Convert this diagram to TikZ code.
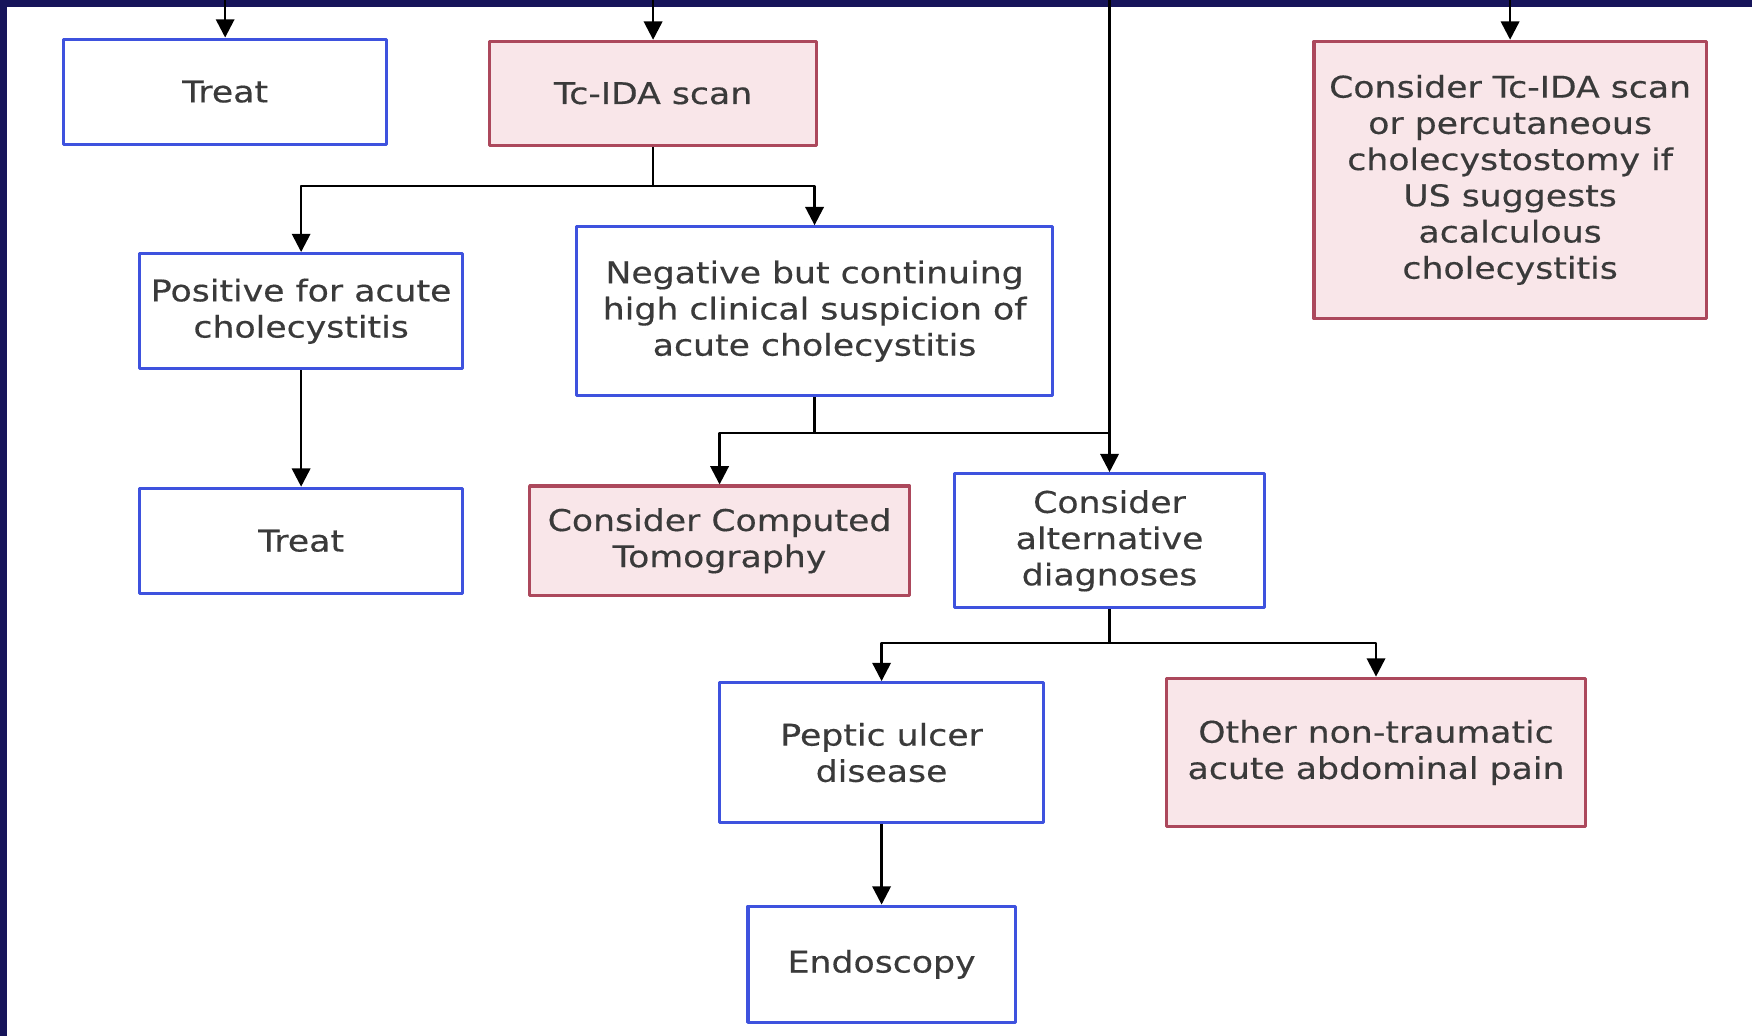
\documentclass[tikz,border=0pt]{standalone}
\usepackage{fontspec}
\setmainfont[FakeStretch=1.16,FakeBold=0.4]{DejaVu Sans}
\usepackage{xcolor}
\usepackage{tikz}
\usetikzlibrary{arrows.meta,calc}
\definecolor{framenavy}{RGB}{22,20,90}
\definecolor{boxblue}{RGB}{62,82,222}
\definecolor{boxred}{RGB}{172,72,92}
\definecolor{boxpink}{RGB}{249,230,233}
\definecolor{txtgray}{RGB}{58,58,58}

\begin{document}
\begin{tikzpicture}[x=0.011173cm,y=-0.011173cm,>={Triangle[length=5.2pt,width=5.2pt]},line join=round,
  bluebox/.style={draw=boxblue,line width=0.9pt,fill=white,inner sep=0pt,align=center,
    text=txtgray,font=\fontsize{8.5}{10.3}\selectfont},
  pinkbox/.style={bluebox,draw=boxred,fill=boxpink},
  link/.style={->,line width=0.75pt}]
  \useasboundingbox (0,0) rectangle (1568,927);
  \fill[framenavy] (0,0) rectangle (1568,927);
  \fill[white] (6,6) rectangle (1568,927);
  \coordinate (topline) at (0,0);

  % first row
  \node[bluebox,minimum width=3.229cm,minimum height=1.050cm] (treatA) at (201.5,82) {Treat};
  \node[pinkbox,minimum width=3.274cm,minimum height=1.039cm] (tcida) at (584.5,83.5) {Tc-IDA scan};
  \node[pinkbox,minimum width=3.922cm,minimum height=2.771cm] (considertc) at (1351.5,161)
    {Consider Tc-IDA scan\\or percutaneous\\cholecystostomy if\\US suggests\\acalculous\\cholecystitis};

  % scan results
  \node[bluebox,minimum width=3.229cm,minimum height=1.151cm] (positive) at (269.5,278.5)
    {Positive for acute\\cholecystitis};
  \node[bluebox,minimum width=4.760cm,minimum height=1.687cm] (negative) at (729,278.5)
    {Negative but continuing\\high clinical suspicion of\\acute cholecystitis};

  % next steps
  \node[bluebox,minimum width=3.229cm,minimum height=1.050cm] (treatB) at (269.5,484) {Treat};
  \node[pinkbox,minimum width=3.799cm,minimum height=1.095cm] (ct) at (644,484)
    {Consider Computed\\Tomography};
  \node[bluebox,minimum width=3.106cm,minimum height=1.341cm] (alt) at (993,484)
    {Consider\\alternative\\diagnoses};
  \node[bluebox,minimum width=3.240cm,minimum height=1.397cm] (peptic) at (789,673.5)
    {Peptic ulcer\\disease};
  \node[pinkbox,minimum width=4.190cm,minimum height=1.486cm] (other) at (1231.5,673.5)
    {Other non-traumatic\\acute abdominal pain};
  \node[bluebox,minimum width=2.670cm,minimum height=1.162cm] (endo) at (789,863) {Endoscopy};

  % arrows from above
  \draw[link] (treatA.north |- topline) -- (treatA.north);
  \draw[link] (tcida.north |- topline) -- (tcida.north);
  \draw[link] (considertc.north |- topline) -- (considertc.north);
  \draw[link] (alt.north |- topline) -- (alt.north);

  % branches
  \coordinate (tcjoin) at ($(tcida.south)+(0,35)$);
  \draw[line width=0.75pt] (tcida.south) -- (tcjoin);
  \draw[link] (tcjoin) -| (positive.north);
  \draw[link] (tcjoin) -| (negative.north);
  \draw[link] (positive.south) -- (treatB.north);

  \coordinate (negjoin) at ($(negative.south)+(0,32)$);
  \draw[line width=0.75pt] (negative.south) -- (negjoin) -- (negjoin -| alt.north);
  \draw[link] (negjoin) -| (ct.north);

  \coordinate (altjoin) at ($(alt.south)+(0,30)$);
  \draw[line width=0.75pt] (alt.south) -- (altjoin);
  \draw[link] (altjoin) -| (peptic.north);
  \draw[link] (altjoin) -| (other.north);
  \draw[link] (peptic.south) -- (endo.north);
\end{tikzpicture}
\end{document}
